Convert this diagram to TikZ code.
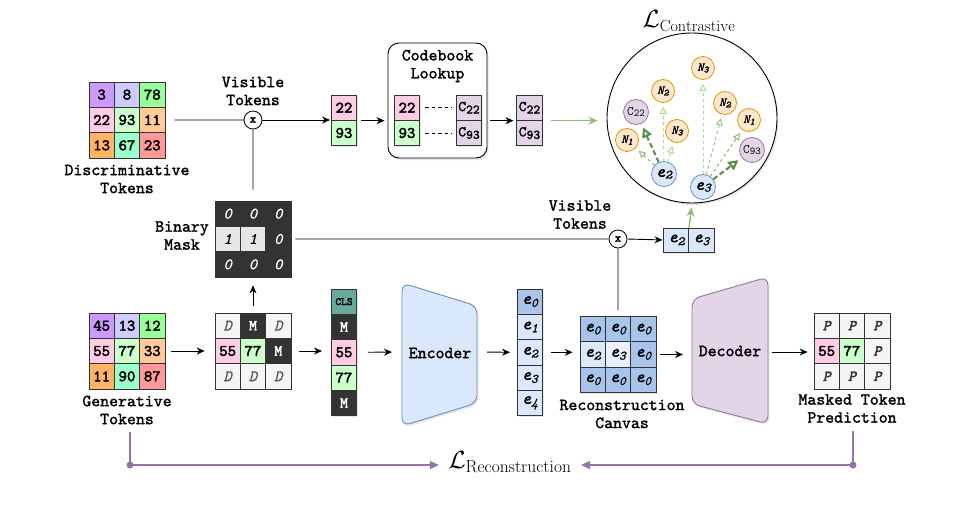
\documentclass[tikz,border=0pt]{standalone}
\usepackage{fontspec}
\newfontfamily\monob{lmmono10-regular.otf}[FakeBold=1.6]
\newfontfamily\monobb{lmmono10-regular.otf}[FakeBold=2.6]
\newfontfamily\monobi{lmmono10-italic.otf}[FakeBold=1.8]
\newfontfamily\monobbi{lmmono10-italic.otf}[FakeBold=2.6]
\newfontfamily\monoi{lmmono10-italic.otf}[FakeBold=0.6]
\usetikzlibrary{arrows.meta,shadows}
\definecolor{cpurple}{HTML}{CC99FF}
\definecolor{clav}{HTML}{CCCCFF}
\definecolor{cgreen}{HTML}{99FF99}
\definecolor{cpink}{HTML}{FFCCE6}
\definecolor{clgreen}{HTML}{CCFFCC}
\definecolor{clorange}{HTML}{FFCC99}
\definecolor{corange}{HTML}{FFB366}
\definecolor{cmint}{HTML}{99FFCC}
\definecolor{cred}{HTML}{FF9999}
\definecolor{cdark}{HTML}{333333}
\definecolor{cgray}{HTML}{555555}
\definecolor{clight}{HTML}{F5F5F5}
\definecolor{cmask}{HTML}{E6E6E6}
\definecolor{bluefill}{HTML}{DAE8FC}
\definecolor{bluedark}{HTML}{A9C4EB}
\definecolor{bluexl}{HTML}{E8F0FD}
\definecolor{blueline}{HTML}{6C8EBF}
\definecolor{purplefill}{HTML}{E1D5E7}
\definecolor{purpleline}{HTML}{9673A6}
\definecolor{orangefill}{HTML}{FFE6CC}
\definecolor{orangeline}{HTML}{D79B00}
\definecolor{cteal}{HTML}{67AB9F}
\definecolor{glight}{HTML}{A5DC8A}
\definecolor{gmid}{HTML}{82B366}
\definecolor{gdark}{HTML}{5A8A45}
\newcommand\mono{\ttfamily}
\newcommand\numf{\monobb\fontsize{16}{18}\selectfont}
\newcommand\labf{\monob\fontsize{17}{18}\selectfont}
\newcommand\ee[1]{{\monobbi\fontsize{17}{18}\selectfont e}\raisebox{-0.45ex}{\monoi\fontsize{13}{14}\selectfont #1}}
\newcommand\cc[1]{{\monob\fontsize{15}{16}\selectfont C}\raisebox{-0.35ex}{\monob\fontsize{13}{14}\selectfont #1}}
\newcommand\ccs[1]{{\mono\fontsize{13}{14}\selectfont C}\raisebox{-0.35ex}{\mono\fontsize{10.5}{11}\selectfont #1}}
\newcommand\nn[1]{{\monobi\fontsize{12}{13}\selectfont N}\raisebox{-0.4ex}{\monobi\fontsize{9.5}{10}\selectfont #1}}
\begin{document}
\begin{tikzpicture}[x=1pt,y=-1pt,
  cell/.style={draw=cdark, line width=0.7pt, minimum width=25.33pt, minimum height=25.33pt,
    inner sep=0pt, font=\numf, drop shadow={shadow xshift=1.2pt,shadow yshift=-1.5pt,opacity=0.18}},
  fpu/.style={fill=cpurple}, fla/.style={fill=clav}, fgr/.style={fill=cgreen},
  fpi/.style={fill=cpink}, flg/.style={fill=clgreen}, flo/.style={fill=clorange},
  for/.style={fill=corange}, fmi/.style={fill=cmint}, fre/.style={fill=cred},
  fD/.style={fill=clight, text=cgray, font=\monoi\fontsize{16}{18}\selectfont},
  fM/.style={fill=cdark, text=white, font=\monobb\fontsize{15}{17}\selectfont},
  fK/.style={fill=cdark, text=white, font=\monoi\fontsize{16}{18}\selectfont},
  fk/.style={fill=cmask, text=black, font=\monoi\fontsize{16}{18}\selectfont},
  fP/.style={fill=clight, text=cdark, font=\monobbi\fontsize{15}{17}\selectfont},
  fbd/.style={fill=bluedark}, fbl/.style={fill=bluefill}, fbx/.style={fill=bluexl},
  fte/.style={fill=cteal, font=\monobb\fontsize{11}{12}\selectfont},
  fcp/.style={fill=purplefill},
  lab/.style={font=\labf, align=center, inner sep=0pt},
  arr/.style={-{Stealth[length=8pt,width=7pt]}, line width=0.9pt, black},
  ln/.style={line width=0.9pt, black},
  garr/.style={-{Stealth[length=9pt,width=8pt]}, line width=1.4pt, gmid!70!glight},
  parr/.style={-{Triangle[length=9pt,width=8pt]}, line width=1.3pt, purpleline},
  xnode/.style={draw, circle, minimum size=18pt, inner sep=0pt, fill=white, line width=0.8pt,
    font=\monobb\fontsize{12}{12}\selectfont},
  ncirc/.style={circle, draw=orangeline, fill=orangefill, minimum size=23pt, inner sep=0pt, line width=0.8pt},
  ccirc/.style={circle, draw=purpleline, fill=purplefill, minimum size=25pt, inner sep=0pt, line width=0.8pt},
  ecirc/.style={circle, draw=blueline, fill=bluefill, minimum size=25pt, inner sep=0pt, line width=0.8pt},
  ca/.style={dashed, -{Triangle[open,length=7pt,width=7pt]}, line width=0.9pt, shorten >=4pt},
  cab/.style={dash pattern=on 5pt off 3pt, -{Triangle[open,length=10pt,width=10pt]}, line width=2pt, gdark, shorten >=4pt}
]
\useasboundingbox (0,0) rectangle (966,508);
\def\s{25.33}

% ---------- discriminative grid
\foreach \r/\c/\st/\t in {1/1/fpu/3,1/2/fla/8,1/3/fgr/78,2/1/fpi/22,2/2/flg/93,2/3/flo/11,3/1/for/13,3/2/fmi/67,3/3/fre/23}
  \node[cell,\st] (d-\r-\c) at ({89+\s*(\c-0.5)},{82+\s*(\r-0.5)}) {\t};
\node[lab] (dlab) at (127,179) {Discriminative\\Tokens};

% ---------- generative grid
\foreach \r/\c/\st/\t in {1/1/fpu/45,1/2/fla/13,1/3/fgr/12,2/1/fpi/55,2/2/flg/77,2/3/flo/33,3/1/for/11,3/2/fmi/90,3/3/fre/87}
  \node[cell,\st] (g-\r-\c) at ({89+\s*(\c-0.5)},{313+\s*(\r-0.5)}) {\t};
\node[lab] (glab) at (127,410) {Generative\\Tokens};

% ---------- masked grid
\foreach \r/\c/\st/\t in {1/1/fD/D,1/2/fM/M,1/3/fD/D,2/1/fpi/55,2/2/flg/77,2/3/fM/M,3/1/fD/D,3/2/fD/D,3/3/fD/D}
  \node[cell,\st] (m-\r-\c) at ({215+\s*(\c-0.5)},{313+\s*(\r-0.5)}) {\t};

% ---------- binary mask
\foreach \r/\c/\st/\t in {1/1/fK/0,1/2/fK/0,1/3/fK/0,2/1/fk/1,2/2/fk/1,2/3/fK/0,3/1/fK/0,3/2/fK/0,3/3/fK/0}
  \node[cell,\st] (b-\r-\c) at ({215+\s*(\c-0.5)},{201+\s*(\r-0.5)}) {\t};
\node[lab] (blab) at (182,235.5) {Binary\\Mask};

% ---------- CLS column
\foreach \r/\st/\t in {1/fte/CLS,2/fM/M,3/fpi/55,4/flg/77,5/fM/M}
  \node[cell,\st] (c-\r) at (344,{289+\s*(\r-0.5)}) {\t};

% ---------- encoder
\draw[blueline, fill=bluefill, line width=0.9pt, rounded corners=8pt,
  drop shadow={shadow xshift=1.5pt,shadow yshift=-2pt,opacity=0.18}]
  (402,283) -- (477,306) -- (477,403) -- (402,426) -- cycle;
\node[lab] (enc) at (440,353) {Encoder};
\coordinate (encL) at (402,352);
\coordinate (encR) at (477,352);

% ---------- e column
\node[cell,fbd] (e-1) at (530,{289+\s*0.5}) {\ee{0}};
\foreach \r/\t in {2/1,3/2,4/3,5/4}
  \node[cell,fbl] (e-\r) at (530,{289+\s*(\r-0.5)}) {\ee{\t}};

% ---------- reconstruction canvas
\foreach \r/\c/\st/\t in {1/1/fbd/0,1/2/fbd/0,1/3/fbd/0,2/1/fbl/2,2/2/fbx/3,2/3/fbd/0,3/1/fbd/0,3/2/fbd/0,3/3/fbd/0}
  \node[cell,\st] (r-\r-\c) at ({580+\s*(\c-0.5)},{316.5+\s*(\r-0.5)}) {\ee{\t}};
\node[lab] (rlab) at (622,414) {Reconstruction\\Canvas};

% ---------- decoder
\draw[purpleline, fill=purplefill, line width=0.9pt, rounded corners=8pt,
  drop shadow={shadow xshift=1.5pt,shadow yshift=-2pt,opacity=0.18}]
  (692,299) -- (768,277) -- (768,424) -- (692,404) -- cycle;
\node[lab] (dec) at (730,351) {Decoder};
\coordinate (decL) at (692,352);
\coordinate (decR) at (768,352);

% ---------- prediction
\foreach \r/\c/\st/\t in {1/1/fP/P,1/2/fP/P,1/3/fP/P,2/1/fpi/55,2/2/flg/77,2/3/fP/P,3/1/fP/P,3/2/fP/P,3/3/fP/P}
  \node[cell,\st] (p-\r-\c) at ({814+\s*(\c-0.5)},{313+\s*(\r-0.5)}) {\t};
\node[lab] (plab) at (852,408.5) {Masked Token\\Prediction};

% ---------- top row
\node[xnode] (x1) at (253,120) {x};
\node[lab] (v1lab) at (253,91) {Visible\\Tokens};
\node[cell,fpi] (v-1) at (344,{95+\s*0.5}) {22};
\node[cell,flg] (v-2) at (344,{95+\s*1.5}) {93};

\node[draw, rounded corners=11pt, line width=0.9pt, fill=white, minimum width=99pt, minimum height=115pt,
  drop shadow={shadow xshift=1.5pt,shadow yshift=-2pt,opacity=0.18}] (cb) at (437.5,100.5) {};
\node[lab] (cblab) at (437.5,66) {Codebook\\Lookup};
\node[cell,fpi] (k-1) at (407,{95+\s*0.5}) {22};
\node[cell,flg] (k-2) at (407,{95+\s*1.5}) {93};
\node[cell,fcp] (q-1) at (469,{95+\s*0.5}) {\cc{22}};
\node[cell,fcp] (q-2) at (469,{95+\s*1.5}) {\cc{93}};
\draw[ln, line width=0.8pt, dash pattern=on 3.5pt off 3pt, shorten <=5pt, shorten >=4pt] (k-1) -- (q-1);
\draw[ln, line width=0.8pt, dash pattern=on 3.5pt off 3pt, shorten <=5pt, shorten >=4pt] (k-2) -- (q-2);

\node[cell,fcp] (o-1) at (529.5,{95+\s*0.5}) {\cc{22}};
\node[cell,fcp] (o-2) at (529.5,{95+\s*1.5}) {\cc{93}};

% ---------- contrastive circle
\node[draw, circle, minimum size=170pt, line width=0.9pt, fill=white,
  drop shadow={shadow xshift=1.5pt,shadow yshift=-2pt,opacity=0.18}] (ctr) at (692,118) {};
\node (lctr) at (689,21) {\fontsize{23}{27}\selectfont $\mathcal{L}_{\mathrm{Contrastive}}$};
\node[ncirc] (n3t) at (703,68) {\nn{3}};
\node[ncirc] (n2l) at (663,91) {\nn{2}};
\node[ccirc] (c22c) at (636,112) {\ccs{22}};
\node[ncirc] (n3m) at (677,131) {\nn{3}};
\node[ncirc] (n1l) at (627,140) {\nn{1}};
\node[ncirc] (n2r) at (725,103) {\nn{2}};
\node[ncirc] (n1r) at (749,120) {\nn{1}};
\node[ccirc] (c93c) at (752,150) {\ccs{93}};
\node[ecirc] (e2c) at (664,174) {\ee{2}};
\node[ecirc] (e3c) at (703,187) {\ee{3}};
\draw[ca, gmid] (e2c) -- (n1l);
\draw[ca, glight] (e2c) -- (n2l);
\draw[ca, glight] (e2c) -- (n3m);
\draw[cab] (e2c) -- (c22c);
\draw[ca, glight] (e3c) -- (n3t);
\draw[ca, gmid!60!glight] (e3c) -- (n2r);
\draw[ca, gmid] (e3c) -- (n1r);
\draw[cab] (e3c) -- (c93c);

% ---------- second visible tokens
\node[xnode] (x2) at (618,239) {x};
\node[lab] (v2lab) at (580,214.5) {Visible\\Tokens};
\node[cell,fbl,minimum height=24pt] (s-1) at (676.5,240) {\ee{2}};
\node[cell,fbl,minimum height=24pt] (s-2) at (701.5,240) {\ee{3}};
\coordinate (sTop) at (689,228);

% ---------- connectors top
\draw[ln, shorten <=9pt] (d-2-3.east) -- (x1.west);
\draw[arr, shorten >=1pt] (x1.east) -- (v-1.west |- x1.east);
\draw[arr, shorten <=4pt, shorten >=3pt] (v-1.south east) -- (cb.west |- v-1.south east);
\draw[arr, shorten <=3pt, shorten >=3pt] (cb.east |- q-1.south east) -- (o-1.south west);
\draw[garr, shorten <=8pt, shorten >=9pt] (o-1.south east) -- (ctr.west |- o-1.south east);
\draw[ln, shorten >=11pt] (x1.south) -- (b-1-2.north);
\draw[arr, shorten <=7pt, shorten >=8pt] (m-1-2.north) -- (b-3-2.south);
\draw[ln, shorten <=4pt] (b-2-3.east) -- (x2.west);
\draw[arr, shorten >=1pt] (x2.east) -- (s-1.west);
\draw[ln, shorten >=6pt] (x2.south) -- (r-1-2.north);
\draw[garr, shorten >=4pt] (sTop) -- (ctr.south);

% ---------- connectors main row
\draw[arr, shorten <=6pt, shorten >=10pt] (g-2-3.east) -- (m-2-1.west);
\draw[arr, shorten <=8pt, shorten >=9pt] (m-2-3.east) -- (m-2-3.east -| c-3.west);
\draw[arr, shorten <=11pt, shorten >=10pt] (c-3.east) -- (encL);
\draw[arr, shorten <=10pt, shorten >=7pt] (encR) -- (e-3.west);
\draw[arr, shorten <=8pt, shorten >=7pt] (e-3.east) -- (e-3.east -| r-2-1.west);
\draw[arr, shorten <=4pt, shorten >=9pt] (r-2-3.east) -- (r-2-3.east -| decL);
\draw[arr, shorten <=4pt, shorten >=6pt] (decR) -- (decR -| p-2-1.west);

% ---------- reconstruction loss
\node (lrec) at (510,462) {\fontsize{25}{29}\selectfont $\mathcal{L}_{\mathrm{Reconstruction}}$};
\coordinate (gTop) at (130,432);
\coordinate (gDot) at (130,465);
\coordinate (pTop) at (853,431);
\coordinate (pDot) at (853,465);
\draw[purpleline, line width=1.3pt] (gTop) -- (gDot);
\draw[purpleline, line width=1.3pt] (pTop) -- (pDot);
\fill[purpleline] (gDot) circle (3.5pt);
\fill[purpleline] (pDot) circle (3.5pt);
\draw[parr, shorten >=6pt] (gDot) -- (lrec.west |- gDot);
\draw[parr, shorten >=6pt] (pDot) -- (lrec.east |- pDot);
\end{tikzpicture}
\end{document}
